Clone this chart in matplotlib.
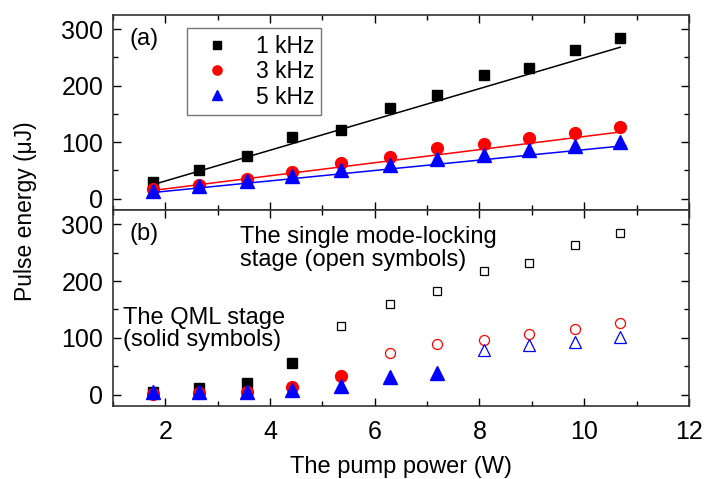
import numpy as np
import matplotlib.pyplot as plt
from matplotlib.ticker import MultipleLocator

plt.rcParams['font.family'] = ['Liberation Sans', 'DejaVu Sans']

# pump power (W)
power = [1.77, 2.65, 3.56, 4.42, 5.35, 6.29, 7.19, 8.09, 8.94, 9.83, 10.69]

# pulse energy (uJ) for each repetition rate
e_1k = [29, 51, 75, 109, 121, 160, 183, 218, 231, 263, 284]
e_3k = [17, 25, 35, 48, 63, 74, 89, 96, 107, 116, 126]
e_5k = [14, 22, 31, 40, 50, 60, 70, 78, 87, 93, 101]

# linear fits (slope, intercept) and their x span
fit_1k = (27.24, -23.2)
fit_3k = (11.58, -5.8)
fit_5k = (9.2, -5.3)
fit_span = [(1.77, 10.69), (1.77, 10.69), (1.77, 10.79)]

# QML stage energies (solid symbols in panel b)
qml_1k = [5, 12, 20, 56]
qml_3k = [2, 3, 4, 13, 32]
qml_5k = [4, 4, 5, 8, 15, 31, 38]

labels = ["1 kHz", "3 kHz", "5 kHz"]
colors = ["black", "red", "blue"]
markers = ["s", "o", "^"]
sizes = [7.5, 8.5, 9.5]

fig = plt.figure(figsize=(7.04, 4.79), dpi=100)
ax_a = fig.add_axes([0.1605, 0.5616, 0.818, 0.4071])
ax_b = fig.add_axes([0.1605, 0.1524, 0.818, 0.4092], sharex=ax_a)

x = np.array(power)

# panel (a): data + linear fits
for e, fit, span, c, m, s, lab in zip([e_1k, e_3k, e_5k], [fit_1k, fit_3k, fit_5k],
                                      fit_span, colors, markers, sizes, labels):
    ax_a.plot(x, e, m, color=c, ms=s, label=lab, linestyle="none")
    xf = np.array(span)
    ax_a.plot(xf, fit[0] * xf + fit[1], color=c, lw=1.1)

ax_a.legend(loc="upper left", bbox_to_anchor=(0.1285, 0.933), fontsize=16.5,
            frameon=True, fancybox=False, edgecolor="#777777", framealpha=1,
            handletextpad=0.7, borderpad=0.3, labelspacing=0.1,
            handlelength=2.0, borderaxespad=0, markerscale=0.78)

# panel (b): solid symbols for QML, open for mode-locking
for e, q, c, m, s in zip([e_1k, e_3k, e_5k], [qml_1k, qml_3k, qml_5k],
                         colors, markers, sizes):
    n = len(q)
    ax_b.plot(x[:n], q, m, color=c, ms=s, linestyle="none")
    ax_b.plot(x[n:], e[n:], m, mfc="none", mec=c, ms=s * 0.85, mew=0.9,
              linestyle="none")

ax_a.text(0.028, 0.935, "(a)", transform=ax_a.transAxes, fontsize=17, va="top")
ax_b.text(0.028, 0.935, "(b)", transform=ax_b.transAxes, fontsize=17, va="top")
ax_b.text(3.42, 296, "The single mode-locking\nstage (open symbols)",
          fontsize=17, va="top", linespacing=1.05)
ax_b.text(1.2, 155, "The QML stage\n(solid symbols)",
          fontsize=17, va="top", linespacing=1.05)

for ax in (ax_a, ax_b):
    ax.set_xlim(1, 12)
    ax.set_ylim(-20, 325)
    ax.yaxis.set_major_locator(MultipleLocator(100))
    ax.yaxis.set_minor_locator(MultipleLocator(50))
    ax.xaxis.set_major_locator(MultipleLocator(2))
    ax.xaxis.set_minor_locator(MultipleLocator(1))
    ax.tick_params(which="both", direction="in", top=True, right=True,
                   labelsize=18, width=1.0)
    ax.tick_params(which="major", length=6)
    ax.tick_params(which="minor", length=3.5)
    ax.tick_params(axis="y", pad=7)
    ax.tick_params(axis="x", pad=10)
    for sp in ax.spines.values():
        sp.set_linewidth(1.2)
        sp.set_color("#333333")

ax_a.tick_params(labelbottom=False)
ax_b.set_xlabel("The pump power (W)", fontsize=17, labelpad=9)
fig.text(0.036, 0.56, "Pulse energy (\u03bcJ)", rotation=90, fontsize=16.5,
         ha="center", va="center")

fig.savefig("out.png", dpi=100)
